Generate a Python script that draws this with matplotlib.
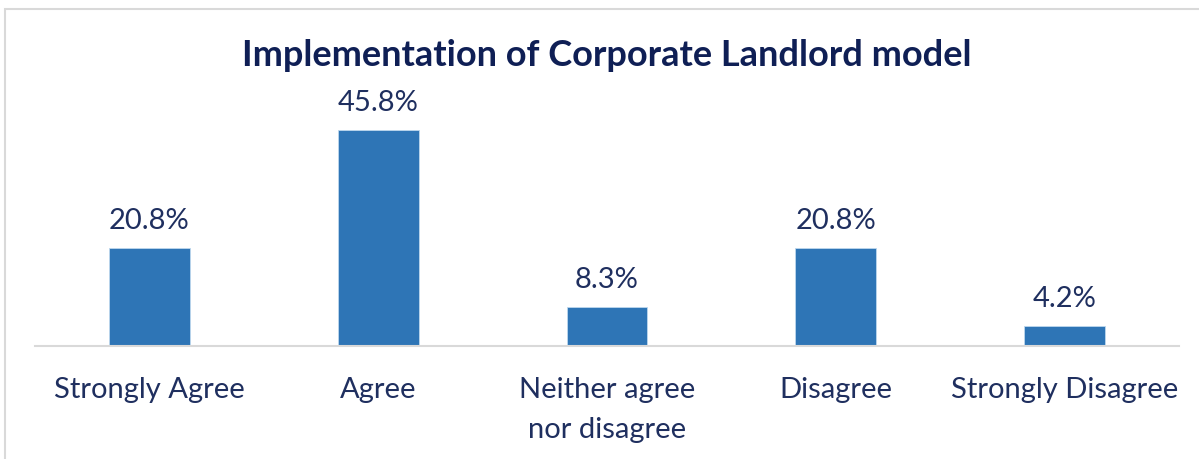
import matplotlib.pyplot as plt
from matplotlib.patches import Rectangle

# DATA
categories = ["Strongly Agree", "Agree", "Neither agree\nnor disagree", "Disagree", "Strongly Disagree"]
values = [20.8, 45.8, 8.3, 20.8, 4.2]
value_labels = ["20.8%", "45.8%", "8.3%", "20.8%", "4.2%"]

BAR_COLOR = "#2E75B6"
TEXT_COLOR = "#1F2F5F"
TITLE_COLOR = "#0F1F55"

plt.rcParams["font.family"] = ["Lato", "DejaVu Sans"]

W, H = 1199, 459
fig = plt.figure(figsize=(W / 100, H / 100), dpi=100)

# chart frame (only top and left visible in the crop)
fig.patches.append(Rectangle((5 / W, -0.1), 1.2, (H - 9) / H + 0.1, transform=fig.transFigure,
                             fill=False, edgecolor="#D9D9D9", linewidth=1.5))

# axes: x 35..1179, baseline y=346, top y=100
ax = fig.add_axes([35 / W, (H - 346) / H, 1144 / W, 246 / H])
x = list(range(len(categories)))
ax.bar(x, values, width=0.354, color=BAR_COLOR, edgecolor="#BDD7EE", linewidth=0.6)
ax.set_xlim(-0.5, len(categories) - 0.5)
ax.set_ylim(0, 52.2)

for xi, v, lab in zip(x, values, value_labels):
    ax.annotate(lab, (xi, v), xytext=(0, 10), textcoords="offset points",
                ha="center", va="bottom", fontsize=21, color=TEXT_COLOR)

for s in ["top", "right", "left"]:
    ax.spines[s].set_visible(False)
ax.spines["bottom"].set_color("#D9D9D9")
ax.spines["bottom"].set_linewidth(1.5)
ax.set_yticks([])
ax.set_xticks(x)
ax.set_xticklabels(categories, fontsize=21, color=TEXT_COLOR, linespacing=1.7)
ax.tick_params(axis="x", length=0, pad=22)

fig.text(607 / W, (H - 56) / H, "Implementation of Corporate Landlord model",
         ha="center", va="center", fontsize=26, fontweight="bold", color=TITLE_COLOR)

fig.savefig("out.png", dpi=100)
